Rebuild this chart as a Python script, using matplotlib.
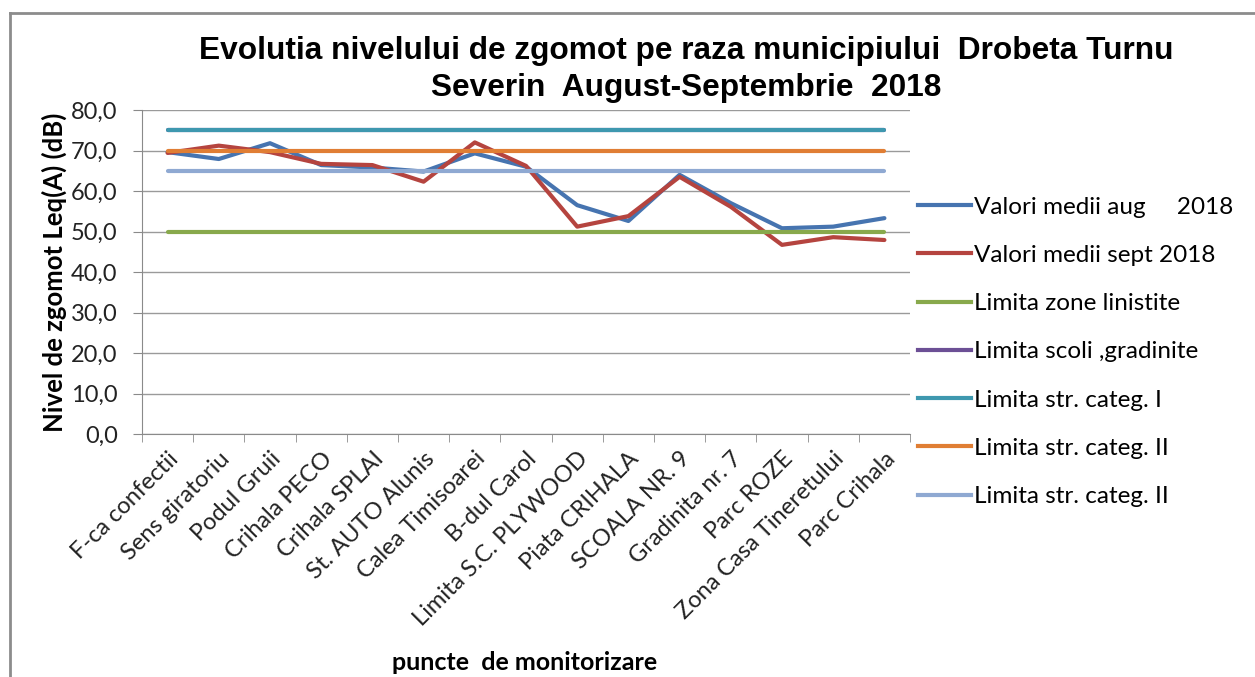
import numpy as np
import matplotlib
matplotlib.use("Agg")
import matplotlib.pyplot as plt
from matplotlib.lines import Line2D

# puncte de monitorizare
puncte = ["F-ca confectii", "Sens giratoriu", "Podul Gruii", "Crihala PECO",
          "Crihala SPLAI", "St. AUTO Alunis", "Calea Timisoarei", "B-dul Carol",
          "Limita S.C. PLYWOOD", "Piata CRIHALA", "SCOALA NR. 9", "Gradinita nr. 7",
          "Parc ROZE", "Zona Casa Tineretului", "Parc Crihala"]

# valori medii Leq(A) dB
aug_2018 = [69.6, 67.9, 71.8, 66.4, 65.8, 64.8, 69.3, 66.0, 56.5, 52.6, 64.0, 57.0, 50.8, 51.2, 53.3]
sept_2018 = [69.4, 71.2, 69.6, 66.7, 66.4, 62.3, 72.0, 66.2, 51.2, 53.8, 63.5, 56.1, 46.7, 48.6, 47.9]

# limite
lim_linistite = 50
lim_scoli = 75
lim_categ1 = 75
lim_categ2 = 70
lim_categ3 = 65

labels = ["Valori medii aug     2018", "Valori medii sept 2018", "Limita zone linistite",
          "Limita scoli ,gradinite", "Limita str. categ. I", "Limita str. categ. II",
          "Limita str. categ. II"]
colors = ["#4674B0", "#B5443F", "#88A94C", "#6C4F95", "#3E98AF", "#E07E34", "#8FA9D2"]

W, H = 1255, 677
fig = plt.figure(figsize=(W / 100, H / 100), dpi=100)
ax = fig.add_axes([142 / W, 1 - 434 / H, (910 - 142) / W, (434 - 110) / H])

x = np.arange(len(puncte))
n = len(puncte)
series = [aug_2018, sept_2018,
          [lim_linistite] * n, [lim_scoli] * n, [lim_categ1] * n,
          [lim_categ2] * n, [lim_categ3] * n]
for vals, c, lab in zip(series, colors, labels):
    ax.plot(x, vals, color=c, lw=3, solid_capstyle="round", solid_joinstyle="round", label=lab)

ax.set_xlim(-0.5, n - 0.5)
ax.set_ylim(0, 80)
yt = np.arange(0, 81, 10)
ax.set_yticks(yt)
ax.set_yticklabels([("%.1f" % v).replace(".", ",") for v in yt], fontsize=17, family="Lato", color="#222222")
ax.yaxis.grid(True, color="#9a9a9a", lw=1)
ax.set_axisbelow(True)

ax.set_xticks(x)
ax.set_xticklabels(puncte, rotation=45, ha="right", rotation_mode="anchor",
                   fontsize=17, family="Lato", color="#222222")
ax.set_xticks(np.arange(-0.5, n), minor=True)
ax.tick_params(axis="x", which="major", length=0, pad=10)
ax.tick_params(axis="x", which="minor", length=6, color="#8a8a8a", direction="out")
ax.tick_params(axis="y", length=6.5, color="#8a8a8a", direction="out", pad=11)

for s in ["top", "right"]:
    ax.spines[s].set_visible(False)
ax.spines["left"].set_color("#8a8a8a")
ax.spines["bottom"].set_color("#8a8a8a")

ax.set_ylabel("Nivel de zgomot Leq(A) (dB)", fontsize=18.5, family="Lato", fontweight="bold", labelpad=3)
fig.text(525 / W, 1 - 662 / H, "puncte  de monitorizare", ha="center", va="center",
         fontsize=18, family="Lato", fontweight="bold")

fig.text(686 / W, 1 - 51 / H, "Evolutia nivelului de zgomot pe raza municipiului  Drobeta Turnu",
         ha="center", va="center", fontsize=22.8, family="Liberation Sans", fontweight="bold")
fig.text(686 / W, 1 - 88 / H, "Severin  August-Septembrie  2018",
         ha="center", va="center", fontsize=22.8, family="Liberation Sans", fontweight="bold")

handles = [Line2D([], [], color=c, lw=3) for c in colors]
fig.legend(handles, labels, loc="upper left", bbox_to_anchor=(908 / W, 1 - 187 / H),
           frameon=False, prop={"family": "Lato", "size": 17.5},
           handlelength=2.2, handletextpad=0.12, labelspacing=1.12, borderaxespad=0)

# chenarul graficului
fig.add_artist(Line2D([10 / W, 10 / W], [0, 1 - 13 / H], color="#8c8c8c", lw=2))
fig.add_artist(Line2D([10 / W, 1], [1 - 13 / H, 1 - 13 / H], color="#8c8c8c", lw=2))

fig.savefig("out.png", dpi=100)
